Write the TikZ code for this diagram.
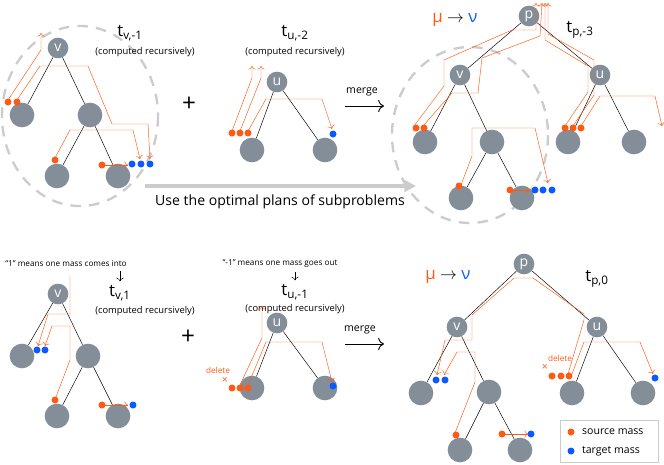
\documentclass[tikz,border=0pt]{standalone}
\usepackage{fontspec}
\setmainfont{Open Sans}
\usetikzlibrary{arrows.meta}
\definecolor{srcc}{HTML}{FF5A14}
\definecolor{tgtc}{HTML}{0A5AFF}
\definecolor{nodec}{HTML}{848E99}
\tikzset{
  inner/.style={circle,fill=nodec,text=white,minimum size=0.62cm,inner sep=0pt,font=\large},
  leaf/.style={circle,fill=nodec,minimum size=0.74cm,inner sep=0pt},
  edge/.style={black,thin},
  flow/.style={srcc,thin,-{To[length=3pt]}},
  title/.style={font=\Large},
  small/.style={font=\footnotesize},
  note/.style={font=\scriptsize},
  region/.style={gray!40,dashed,line width=2pt,dash pattern=on 9pt off 7pt},
}
\newcommand{\src}[1]{\fill[srcc] #1 circle (3.5);}
\newcommand{\tgt}[1]{\fill[tgtc] #1 circle (3.5);}
\begin{document}
\begin{tikzpicture}[x=0.03cm,y=-0.03cm]
    \useasboundingbox (0,0) rectangle (664,464);
    % top left: t_{v,-1}
    \draw[region] (80,116) ellipse (78 and 90);
    \node[inner] (va) at (58,48) {v};
    \node[leaf] (va1) at (22,115) {};
    \node[leaf] (va2) at (90,115) {};
    \node[leaf] (va3) at (57,176) {};
    \node[leaf] (va4) at (118,176) {};
    \draw[edge] (va) -- (va1); \draw[edge] (va) -- (va2);
    \draw[edge] (va2) -- (va3); \draw[edge] (va2) -- (va4);
    \draw[flow] (8,100) -- (41,50) -- (41,33);
    \draw[flow] (17,100) -- (40,66) -- (88,66) -- (112,124) -- (148,124) -- (150,159);
    \draw[flow] (55,158) -- (70,130) -- (133,130) -- (140,159);
    \draw[flow] (104,165) -- (128,165);
    \src{(8,102)} \src{(17,102)} \src{(55,160)} \src{(102,165)}
    \tgt{(132,164)} \tgt{(141,164)} \tgt{(150,164)}
    \node[title] (ta) at (130,33) {t\textsubscript{v,-1}};
    \node[small] (ca) at (145,52) {(computed recursively)};
    \node[font=\huge] (plusa) at (189,104) {+};
    % top middle: t_{u,-2}
    \node[inner] (ub) at (277,82) {u};
    \node[leaf] (ub1) at (252,150) {};
    \node[leaf] (ub2) at (325,150) {};
    \draw[edge] (ub) -- (ub1); \draw[edge] (ub) -- (ub2);
    \draw[flow] (232,131) -- (252,78) -- (252,66);
    \draw[flow] (240,131) -- (261,78) -- (261,66);
    \draw[flow] (248,131) -- (266,99) -- (322,99) -- (332,129);
    \src{(232,133)} \src{(240,133)} \src{(248,133)} \tgt{(333,134)}
    \node[title] (tb) at (295,33) {t\textsubscript{u,-2}};
    \node[small] (cb) at (295,52) {(computed recursively)};
    \node[font=\small] (ma) at (362,92) {merge};
    \draw[-{To[length=5pt]},thick] (345,106) -- (384,106);
    % top right: t_{p,-3}
    \draw[region] (470,135) ellipse (78 and 88);
    \node[inner] (pc) at (529,16) {p};
    \node[inner] (vc) at (460,75) {v};
    \node[inner] (uc) at (600,75) {u};
    \node[leaf] (vc1) at (425,142) {};
    \node[leaf] (vc2) at (492,142) {};
    \node[leaf] (vc3) at (461,198) {};
    \node[leaf] (vc4) at (522,198) {};
    \node[leaf] (uc1) at (568,142) {};
    \node[leaf] (uc2) at (634,142) {};
    \draw[edge] (pc) -- (vc); \draw[edge] (pc) -- (uc);
    \draw[edge] (vc) -- (vc1); \draw[edge] (vc) -- (vc2);
    \draw[edge] (vc2) -- (vc3); \draw[edge] (vc2) -- (vc4);
    \draw[edge] (uc) -- (uc1); \draw[edge] (uc) -- (uc2);
    \draw[flow] (414,126) -- (444,86) -- (444,60) -- (512,30) -- (536,30) -- (536,3);
    \draw[flow] (423,126) -- (452,93) -- (478,93) -- (482,58) -- (540,36) -- (542,3);
    \draw[flow] (461,185) -- (472,156) -- (472,128) -- (535,128) -- (548,183);
    \draw[flow] (512,190) -- (530,190);
    \draw[flow] (565,126) -- (588,92) -- (588,66) -- (545,40) -- (545,3);
    \draw[flow] (573,126) -- (594,95) -- (594,60) -- (548,34) -- (548,3);
    \draw[flow] (581,126) -- (600,96) -- (655,96) -- (662,126);
    \src{(416,128)} \src{(424,128)} \src{(459,186)} \src{(510,190)}
    \src{(565,128)} \src{(573,128)} \src{(581,128)}
    \tgt{(535,190)} \tgt{(543,190)} \tgt{(552,190)}
    \node[font=\Large] (muc) at (455,20) {\textcolor{srcc}{µ} $\rightarrow$ \textcolor{tgtc}{ν}};
    \node[title] (tc) at (580,30) {t\textsubscript{p,-3}};
    % reuse arrow
    \draw[gray!40,line width=3pt,-{Triangle[length=10pt,width=10pt]}] (145,186) -- (416,186);
    \node[font=\large] (use) at (280,202) {Use the optimal plans of subproblems};
    % bottom left: t_{v,1}
    \node[note] (na) at (66,264) {``1'' means one mass comes into};
    \node[title] (td) at (120,293) {t\textsubscript{v,1}};
    \draw[-{To[length=3pt]}] (na.south -| td) -- (td.north);
    \node[small] (cd) at (145,311) {(computed recursively)};
    \node[inner] (vd) at (58,294) {v};
    \node[leaf] (vd1) at (22,356) {};
    \node[leaf] (vd2) at (88,356) {};
    \node[leaf] (vd3) at (57,416) {};
    \node[leaf] (vd4) at (118,416) {};
    \draw[edge] (vd) -- (vd1); \draw[edge] (vd) -- (vd2);
    \draw[edge] (vd2) -- (vd3); \draw[edge] (vd2) -- (vd4);
    \draw[flow] (70,276) -- (70,314) -- (48,314) -- (38,346);
    \draw[flow] (56,397) -- (70,360) -- (70,326) -- (52,326) -- (45,346);
    \draw[flow] (104,405) -- (128,405);
    \src{(55,400)} \src{(102,405)}
    \tgt{(37,350)} \tgt{(45,350)} \tgt{(133,405)}
    \node[font=\huge] (plusd) at (188,337) {+};
    % bottom middle: t_{u,-1}
    \node[note] (ne) at (280,264) {``-1'' means one mass goes out};
    \node[title] (te) at (295,292) {t\textsubscript{u,-1}};
    \draw[-{To[length=3pt]}] (ne.south -| te) -- (te.north);
    \node[small] (ce) at (295,309) {(computed recursively)};
    \node[inner] (ue) at (277,323) {u};
    \node[leaf] (ue1) at (252,388) {};
    \node[leaf] (ue2) at (325,388) {};
    \draw[edge] (ue) -- (ue1); \draw[edge] (ue) -- (ue2);
    \draw[flow] (240,385) -- (262,338) -- (262,306);
    \draw[flow] (248,385) -- (266,342) -- (322,342) -- (332,382);
    \node[font=\scriptsize,text=srcc] (de) at (218,370) {delete};
    \node[font=\small,text=srcc] (xe) at (225,380) {×};
    \src{(232,388)} \src{(240,388)} \src{(248,388)} \tgt{(333,386)}
    \node[font=\small] (mb) at (360,330) {merge};
    \draw[-{To[length=5pt]},thick] (345,344) -- (384,344);
    % bottom right: t_{p,0}
    \node[inner] (pf) at (524,264) {p};
    \node[inner] (vf) at (457,327) {v};
    \node[inner] (uf) at (597,327) {u};
    \node[leaf] (vf1) at (421,393) {};
    \node[leaf] (vf2) at (489,392) {};
    \node[leaf] (vf3) at (460,450) {};
    \node[leaf] (vf4) at (520,450) {};
    \node[leaf] (uf1) at (572,393) {};
    \node[leaf] (uf2) at (643,393) {};
    \draw[edge] (pf) -- (vf); \draw[edge] (pf) -- (uf);
    \draw[edge] (vf) -- (vf1); \draw[edge] (vf) -- (vf2);
    \draw[edge] (vf2) -- (vf3); \draw[edge] (vf2) -- (vf4);
    \draw[edge] (uf) -- (uf1); \draw[edge] (uf) -- (uf2);
    \draw[flow] (568,374) -- (584,320) -- (584,314) -- (533,278) -- (514,278) -- (472,315) -- (472,340) -- (445,340) -- (437,375);
    \draw[flow] (455,433) -- (475,382) -- (475,352) -- (457,352) -- (444,375);
    \draw[flow] (504,434) -- (528,434);
    \draw[flow] (572,374) -- (584,342) -- (640,342) -- (653,374);
    \node[font=\scriptsize,text=srcc] (df) at (560,358) {delete};
    \node[font=\small,text=srcc] (xf) at (545,367) {×};
    \src{(552,376)} \src{(561,376)} \src{(569,376)} \src{(456,435)} \src{(502,434)}
    \tgt{(436,380)} \tgt{(445,380)} \tgt{(531,434)} \tgt{(655,378)}
    \node[font=\Large] (muf) at (448,277) {\textcolor{srcc}{µ} $\rightarrow$ \textcolor{tgtc}{ν}};
    \node[title] (tf) at (597,279) {t\textsubscript{p,0}};
    % legend
    \draw[gray!40,fill=white] (560,420) rectangle (658,462);
    \src{(571,432)} \node[font=\small,anchor=west] (ls) at (578,432) {source mass};
    \tgt{(571,451)} \node[font=\small,anchor=west] (lt) at (578,451) {target mass};
\end{tikzpicture}
\end{document}
